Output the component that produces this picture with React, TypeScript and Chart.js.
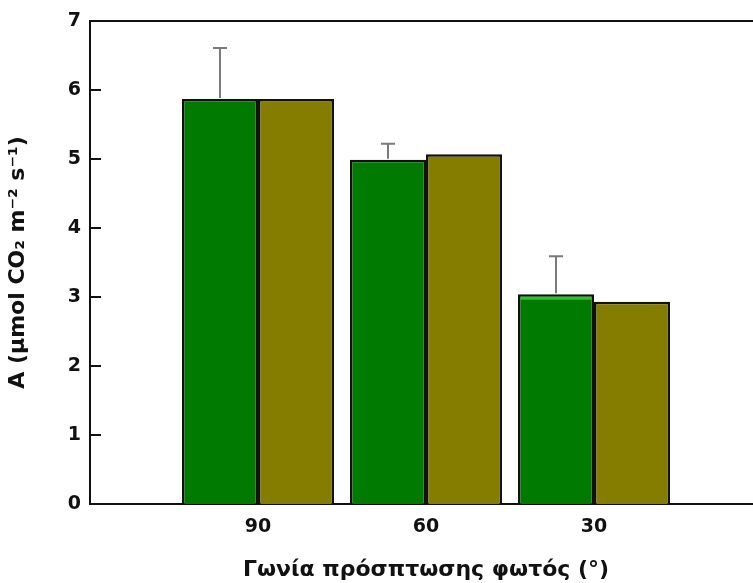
import React, { useEffect, useRef } from 'react';
import { Chart, registerables } from 'chart.js';

Chart.register(...registerables);

// Incidence angle groups (outer empty slots keep the spacing from the axis)
const angles = ['', '90', '60', '30', ''];
const greenValues = [null, 5.87, 4.99, 3.04, null];
const greenErrorTop = [null, 6.61, 5.22, 3.59, null];
const oliveValues = [null, 5.87, 5.07, 2.93, null];
const yTickValues = [0, 1, 2, 3, 4, 5, 6, 7];

const FONT = '"DejaVu Sans", Verdana, sans-serif';
const INK = '#111111';

// Upper-only error bars on the first series, plus the lighter rim on the 30° bar
const errorBars = {
  id: 'errorBars',
  afterDatasetsDraw(chart: any) {
    const { ctx } = chart;
    const yScale = chart.scales.y;
    const meta = chart.getDatasetMeta(0);
    ctx.save();
    meta.data.forEach((bar: any, i: number) => {
      if (greenValues[i] == null) return;
      if (angles[i] === '30') {
        const half = bar.width / 2;
        ctx.fillStyle = '#2fbf2f';
        ctx.fillRect(bar.x - half + 2.5, bar.y + 2.5, bar.width - 5, 3);
      }
      const top = greenErrorTop[i];
      if (top == null) return;
      const py = yScale.getPixelForValue(top);
      ctx.strokeStyle = '#7a7a7a';
      ctx.lineWidth = 2;
      ctx.beginPath();
      ctx.moveTo(bar.x, bar.y - 1);
      ctx.lineTo(bar.x, py);
      ctx.moveTo(bar.x - 7, py);
      ctx.lineTo(bar.x + 7, py);
      ctx.stroke();
    });
    ctx.restore();
  },
};

// Tick marks pointing into the plot area
const innerTicks = {
  id: 'innerTicks',
  afterDraw(chart: any) {
    const { ctx, chartArea } = chart;
    const yScale = chart.scales.y;
    ctx.save();
    ctx.strokeStyle = INK;
    ctx.lineWidth = 2;
    yTickValues.forEach((v) => {
      const py = Math.round(yScale.getPixelForValue(v));
      ctx.beginPath();
      ctx.moveTo(chartArea.left, py);
      ctx.lineTo(chartArea.left + 11, py);
      ctx.stroke();
    });
    ctx.restore();
  },
};

export default function App() {
  const canvasRef = useRef<HTMLCanvasElement | null>(null);

  useEffect(() => {
    if (!canvasRef.current) return;
    const chart = new Chart(canvasRef.current, {
      type: 'bar',
      data: {
        labels: angles,
        datasets: [
          {
            label: 'A',
            data: greenValues,
            backgroundColor: '#007a00',
            borderColor: INK,
            borderWidth: 2.5,
            inflateAmount: 0,
          },
          {
            label: 'B',
            data: oliveValues,
            backgroundColor: '#857d00',
            borderColor: INK,
            borderWidth: 2.5,
            inflateAmount: 0,
          },
        ],
      },
      options: {
        animation: false,
        responsive: false,
        layout: { padding: { top: 21, right: 4, bottom: 0, left: 0 } },
        datasets: { bar: { categoryPercentage: 0.905, barPercentage: 1 } },
        plugins: { legend: { display: false }, tooltip: { enabled: false } },
        scales: {
          x: {
            type: 'category',
            offset: false,
            grid: { display: false, drawTicks: false },
            border: { display: true, color: INK, width: 2 },
            ticks: {
              autoSkip: false,
              maxRotation: 0,
              padding: 12,
              color: INK,
              font: { family: FONT, size: 19, weight: 'bold' },
            },
            title: {
              display: true,
              text: 'Γωνία πρόσπτωσης φωτός (°)',
              color: INK,
              font: { family: FONT, size: 22, weight: 'bold' },
              padding: { top: 0, bottom: 0 },
            },
            afterFit: (s: any) => {
              s.height = 79;
            },
          },
          xTop: {
            type: 'category',
            position: 'top',
            offset: false,
            grid: { display: false, drawTicks: false },
            border: { display: true, color: INK, width: 2 },
            ticks: { display: false },
            afterFit: (s: any) => {
              s.height = 0;
            },
          },
          y: {
            min: 0,
            max: 7,
            grid: { display: false, drawTicks: false },
            border: { display: true, color: INK, width: 2 },
            ticks: {
              stepSize: 1,
              padding: 9,
              color: INK,
              font: { family: FONT, size: 19, weight: 'bold' },
            },
            title: {
              display: true,
              text: 'A (μmol CO₂ m⁻² s⁻¹)',
              color: INK,
              font: { family: FONT, size: 22, weight: 'bold' },
              padding: { top: 5, bottom: 0 },
            },
            afterFit: (s: any) => {
              s.width = 90;
            },
          },
        },
      },
      plugins: [errorBars, innerTicks],
    });
    return () => chart.destroy();
  }, []);

  return (
    <div
      style={{
        position: 'fixed',
        left: 0,
        top: 0,
        width: 753,
        height: 583,
        overflow: 'hidden',
        background: '#ffffff',
      }}
    >
      <canvas ref={canvasRef} width={774} height={583} style={{ display: 'block' }} />
    </div>
  );
}
